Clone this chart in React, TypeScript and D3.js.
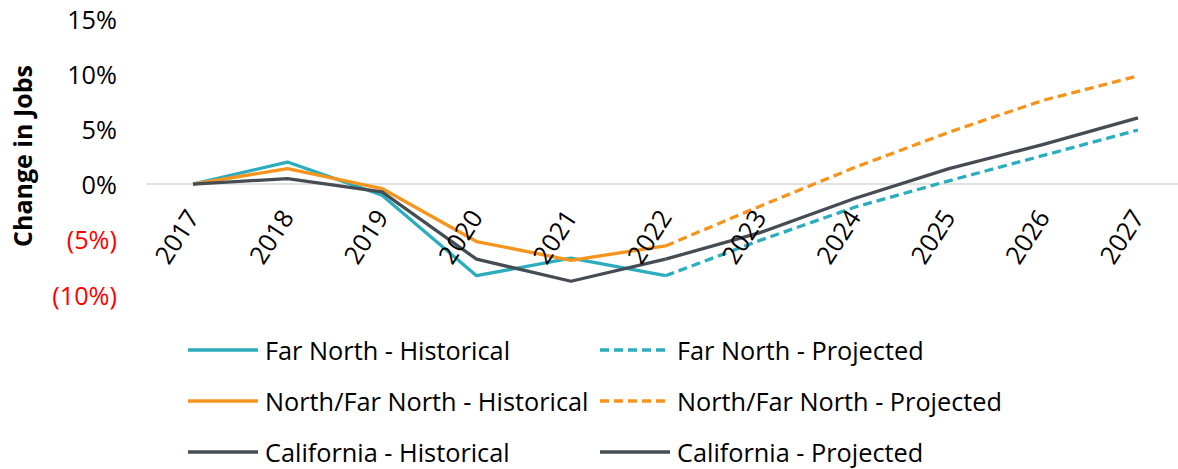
import React from "react";
import * as d3 from "d3";

const years = ["2017","2018","2019","2020","2021","2022","2023","2024","2025","2026","2027"];
const histYears = ["2017","2018","2019","2020","2021","2022"];
const projYears = ["2022","2023","2024","2025","2026","2027"];

const farNorthHist = [0, 2.0, -1.0, -8.3, -6.7, -8.3];
const farNorthProj = [-8.3, -5.1, -2.1, 0.3, 2.6, 4.9];
const northFarNorthHist = [0, 1.4, -0.4, -5.2, -6.9, -5.6];
const northFarNorthProj = [-5.6, -2.0, 1.5, 4.7, 7.6, 9.8];
const californiaHist = [0, 0.5, -0.7, -6.8, -8.8, -6.8];
const californiaProj = [-6.8, -4.4, -1.3, 1.4, 3.6, 6.0];

const yTicks = [-10, -5, 0, 5, 10, 15];

const TEAL = "#2BADBE";
const ORANGE = "#F7941D";
const DARK = "#464C53";
const FONT = "'Open Sans', 'Noto Sans', sans-serif";

const seriesList = [
  { name: "Far North - Historical", years: histYears, values: farNorthHist, color: TEAL, dashed: false },
  { name: "Far North - Projected", years: projYears, values: farNorthProj, color: TEAL, dashed: true },
  { name: "North/Far North - Historical", years: histYears, values: northFarNorthHist, color: ORANGE, dashed: false },
  { name: "North/Far North - Projected", years: projYears, values: northFarNorthProj, color: ORANGE, dashed: true },
  { name: "California - Historical", years: histYears, values: californiaHist, color: DARK, dashed: false },
  { name: "California - Projected", years: projYears, values: californiaProj, color: DARK, dashed: false },
];

const fmt = (v: number) => (v < 0 ? `(${Math.abs(v)}%)` : `${v}%`);

export default function App() {
  const W = 1178, H = 469;
  const FS = 25.3;
  const x = d3.scalePoint<string>().domain(years).range([193, 1138]);
  const y = d3.scaleLinear().domain([-10, 15]).range([294.5, 18.5]);
  const line = d3.line<[string, number]>().x(d => x(d[0]) as number).y(d => y(d[1]));
  const drawOrder = [0, 2, 4, 1, 3, 5];

  return (
    <svg width={W} height={H} style={{ position: "absolute", left: 0, top: 0, background: "#fff" }} fontFamily={FONT}>
      <line x1={146} x2={1178} y1={y(0)} y2={y(0)} stroke="#D9D9D9" strokeWidth={1.5} />
      {yTicks.map(t => (
        <text key={t} x={117} y={y(t)} textAnchor="end" dominantBaseline="central" fontSize={FS} fill={t < 0 ? "#FF0000" : "#000"}>{fmt(t)}</text>
      ))}
      <text transform="translate(22,156) rotate(-90)" textAnchor="middle" dominantBaseline="central" fontSize={25} fontWeight="bold" fill="#000">Change in Jobs</text>
      {drawOrder.map(i => {
        const s = seriesList[i];
        const pts = s.years.map((yr, j) => [yr, s.values[j]] as [string, number]);
        return <path key={s.name} d={line(pts) as string} fill="none" stroke={s.color} strokeWidth={3.3} strokeDasharray={s.dashed ? "9,5" : undefined} strokeLinejoin="round" />;
      })}
      {years.map(yr => (
        <text key={yr} transform={`translate(${(x(yr) as number) - 1},212) rotate(-57)`} textAnchor="end" dominantBaseline="central" fontSize={FS} fill="#000">{yr}</text>
      ))}
      {seriesList.map((s, i) => {
        const col = i % 2;
        const row = Math.floor(i / 2);
        const ly = [350, 401, 452][row];
        const lx = col === 0 ? 188 : 600;
        return (
          <g key={s.name}>
            <line x1={lx} x2={lx + 70} y1={ly} y2={ly} stroke={s.color} strokeWidth={3.3} strokeDasharray={s.dashed ? "9,5" : undefined} />
            <text x={lx + 77} y={ly} dominantBaseline="central" fontSize={FS} fill="#000">{s.name}</text>
          </g>
        );
      })}
    </svg>
  );
}
